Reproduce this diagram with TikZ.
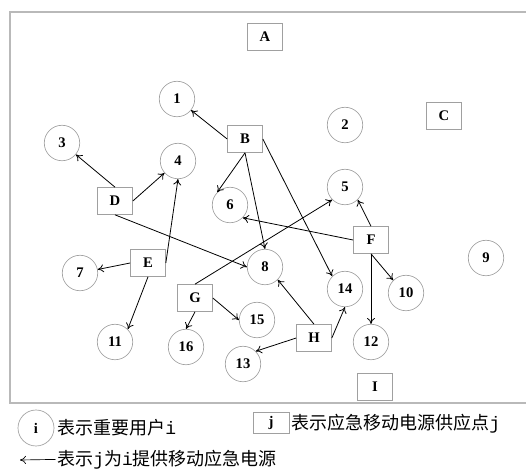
\documentclass[tikz,border=0pt]{standalone}
\usepackage{fontspec}
\setmainfont{Liberation Serif}
\newfontfamily\cjk{Noto Sans CJK SC}
\newfontfamily\latinmono{Liberation Mono}
\usetikzlibrary{arrows.meta}
\definecolor{framegray}{RGB}{185,185,185}
\definecolor{nodegray}{RGB}{160,160,160}
\tikzset{
  user/.style={circle, draw=nodegray, line width=0.5pt, minimum size=26.6pt, inner sep=0pt, font=\bfseries\fontsize{11}{11}\selectfont},
  supply/.style={rectangle, draw=nodegray, line width=0.5pt, minimum width=26.25pt, minimum height=20.25pt, inner sep=0pt, font=\bfseries\fontsize{11}{11}\selectfont},
  feed/.style={-{To[length=4.5pt,width=6pt]}, line width=0.6pt, black},
  legendtext/.style={anchor=base west, inner sep=0pt, font=\cjk\fontsize{13.5}{14}\selectfont}
}
\begin{document}
\begin{tikzpicture}[x=0.75pt,y=-0.75pt]
\useasboundingbox (0,0) rectangle (526,469);
% frame (right side runs off the picture)
\draw[framegray, line width=0.8pt] (530,12) -- (10,12) -- (10,403) -- (530,403);
% supply points
\node[supply] (A) at (265,37) {A};
\node[supply] (B) at (245,139) {B};
\node[supply] (C) at (444,116) {C};
\node[supply] (D) at (115,201) {D};
\node[supply] (E) at (148,263) {E};
\node[supply] (F) at (371,240) {F};
\node[supply] (G) at (195,298) {G};
\node[supply] (H) at (314,338) {H};
\node[supply] (I) at (375,387) {I};
% users
\node[user] (n1) at (177,99) {1};
\node[user] (n2) at (345,125) {2};
\node[user] (n3) at (62,143) {3};
\node[user] (n4) at (178,161) {4};
\node[user] (n5) at (345,187) {5};
\node[user] (n6) at (230,205) {6};
\node[user] (n7) at (80,273) {7};
\node[user] (n8) at (265,267) {8};
\node[user] (n9) at (486,258) {9};
\node[user] (n10) at (406,293) {10};
\node[user] (n11) at (115,342) {11};
\node[user] (n12) at (371,342) {12};
\node[user] (n13) at (243,364) {13};
\node[user] (n14) at (345,289) {14};
\node[user] (n15) at (257,320) {15};
\node[user] (n16) at (186,347) {16};
% supply connections
\draw[feed] (B.west) -- (n1);
\draw[feed] (B.south) -- (n6.north west);
\draw[feed] (B.south) -- (n8.north);
\draw[feed] (B.east) -- (n14.north west);
\draw[feed] (D.north) -- (n3);
\draw[feed] (D.east) -- (n4);
\draw[feed] (D.south) -- (n8.west);
\draw[feed] (E.east) -- (n4.south);
\draw[feed] (E.west) -- (n7);
\draw[feed] (E.south) -- (n11.north east);
\draw[feed] (F.north) -- (n5.south east);
\draw[feed] (F.west) -- (n6.south east);
\draw[feed] (F.south) -- (n10.north west);
\draw[feed] (F.south) -- (n12.north);
\draw[feed] (G.north) -- (n5.south west);
\draw[feed] (G.south) -- (n16.north);
\draw[feed] (G.east) -- (n15.west);
\draw[feed] (H.north) -- (n8.south east);
\draw[feed] (H.east) -- (n14.south);
\draw[feed] (H.west) -- (n13.north east);
% legend
\node[user, minimum size=27pt] (li) at (36,428) {i};
\node[legendtext] (lt1) at (57,434) {表示重要用户{\latinmono i}};
\node[supply, minimum height=15.75pt, minimum width=27pt] (lj) at (271,423) {j};
\node[legendtext] (lt2) at (291,429) {表示应急移动电源供应点{\latinmono j}};
\node[legendtext] (lt3) at (57,465) {表示{\latinmono j}为{\latinmono i}提供移动应急电源};
\coordinate (la) at (20,460);
\draw[feed, line width=0.5pt] ([xshift=-1pt,yshift=4.2pt]lt3.base west) -- (la);
\end{tikzpicture}
\end{document}
